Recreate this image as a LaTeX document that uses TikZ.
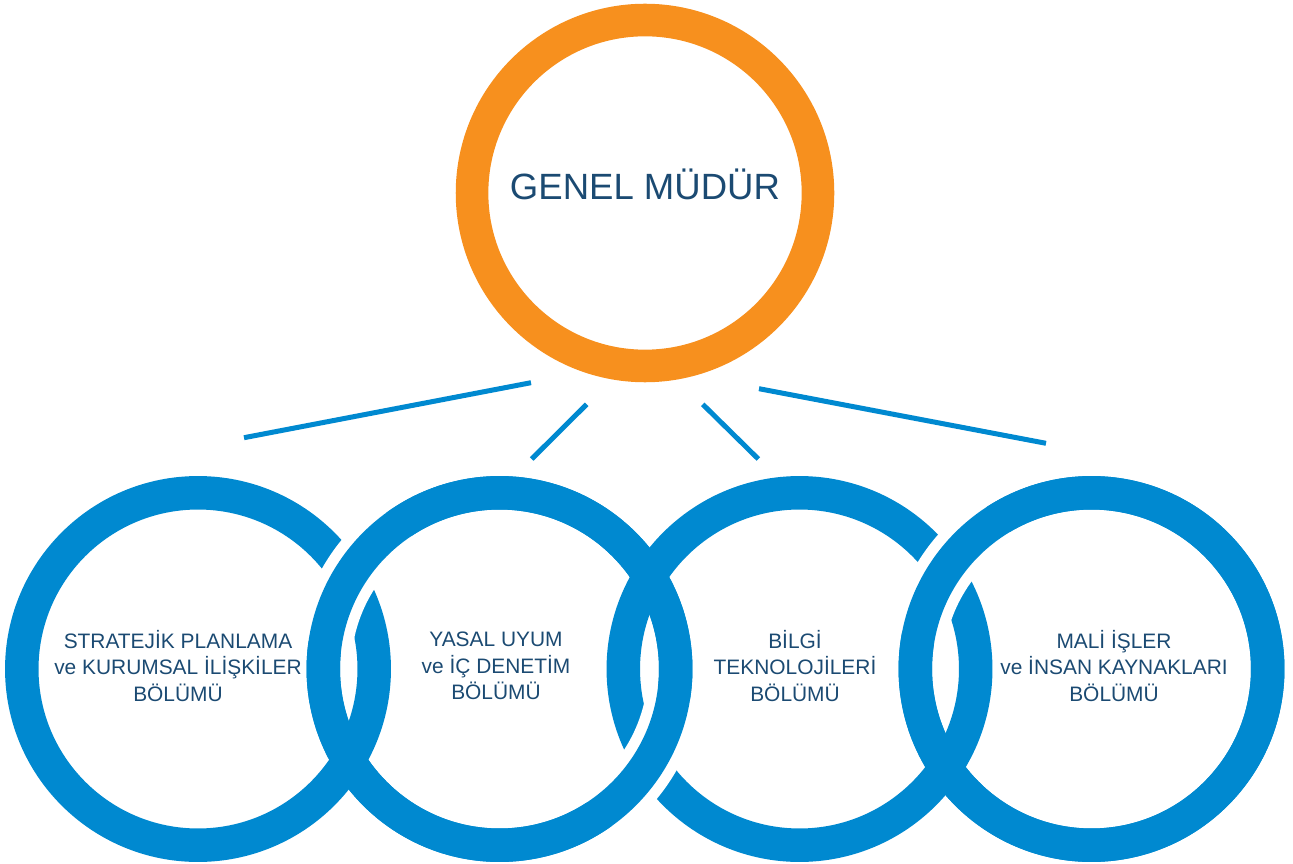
\documentclass[tikz,border=0pt]{standalone}
\usepackage{fontspec}
\setmainfont{Liberation Sans}
\usepackage{xcolor}
\usetikzlibrary{positioning,calc}
\definecolor{COrange}{HTML}{F7901E}
\definecolor{CBlue}{HTML}{0089D0}
\definecolor{CInk}{HTML}{1B4A72}

\begin{document}
\begin{tikzpicture}[x=0.02cm, y=-0.02cm, every node/.style={text=CInk},
  head/.style  ={circle, draw=COrange, line width=0.652cm, minimum size=6.92cm,
                 inner sep=0pt, outer sep=0pt, font=\fontsize{20.8}{25}\selectfont,
                 text height=0.716em, text depth=0pt},
  ring/.style  ={circle, draw=CBlue, line width=0.67cm, minimum size=7.05cm,
                 inner sep=0pt, outer sep=0pt},
  dept/.style  ={align=center, font=\fontsize{11.9}{15.2}\selectfont},
  link/.style  ={draw=CBlue, line width=0.1cm},
  notch/.style ={draw=white, line width=1.11cm},
  ringtop/.style={draw=CBlue, line width=0.67cm}]
\useasboundingbox (0,0) rectangle (1293,864);
\node[head] (gm) at (645,193) {GENEL MÜDÜR};
\foreach \i/\x in {1/198,2/499.5,3/799.5,4/1091.5} {\node[ring] (r\i) at (\x,669) {};}
% where one ring passes over the next
\coordinate (x12) at (349,577.7);
\coordinate (x23) at (649.5,761.5);
\coordinate (x34) at (945.5,570.3);
\foreach \c/\r in {x12/r2,x23/r2,x34/r4} {
  \begin{scope}
    \clip (\c) circle (1.5cm);
    \draw[notch] (\r.center) circle (3.525cm);
  \end{scope}
}
\foreach \r in {r2,r4} {\draw[ringtop] (\r.center) circle (3.525cm);}
\node[dept] (t1) at (178,666) {STRATEJİK PLANLAMA\\ve KURUMSAL İLİŞKİLER\\BÖLÜMÜ};
\node[dept] (t2) at (496,666) {YASAL UYUM\\ve İÇ DENETİM\\BÖLÜMÜ};
\node[dept] (t3) at (795,666) {BİLGİ\\TEKNOLOJİLERİ\\BÖLÜMÜ};
\node[dept] (t4) at (1114,666) {MALİ İŞLER\\ve İNSAN KAYNAKLARI\\BÖLÜMÜ};
% free-standing links under the head
\coordinate (a1) at (531,382.7);   \coordinate (a2) at (244,437.7);
\coordinate (b1) at (586.7,404.3); \coordinate (b2) at (531.7,459);
\coordinate (c1) at (702.7,404.3); \coordinate (c2) at (758.3,459);
\coordinate (d1) at (759,388.7);   \coordinate (d2) at (1046,443.3);
\foreach \s in {a,b,c,d} {\draw[link] (\s1) -- (\s2);}
\end{tikzpicture}
\end{document}
